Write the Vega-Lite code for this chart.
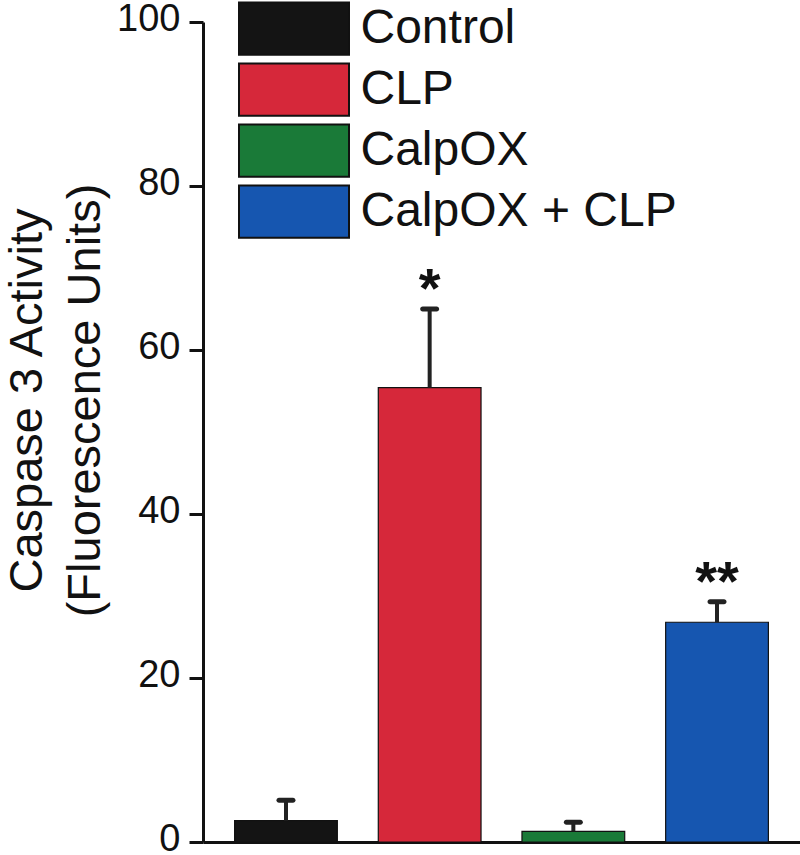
{
  "$schema": "https://vega.github.io/schema/vega-lite/v6.json",
  "width": 597,
  "height": 820,
  "autosize": "none",
  "padding": {"left": 203, "top": 22, "right": 0, "bottom": 13},
  "background": "white",
  "data": {
    "values": [
      {"group": "Control", "mean": 2.6, "upper": 5.1, "sig": ""},
      {"group": "CLP", "mean": 55.4, "upper": 65.0, "sig": "*"},
      {"group": "CalpOX", "mean": 1.3, "upper": 2.4, "sig": ""},
      {"group": "CalpOX + CLP", "mean": 26.8, "upper": 29.3, "sig": "**"}
    ]
  },
  "config": {
    "view": {"stroke": null},
    "font": "Liberation Sans"
  },
  "encoding": {
    "x": {
      "field": "group",
      "type": "nominal",
      "sort": ["Control", "CLP", "CalpOX", "CalpOX + CLP"],
      "scale": {"paddingInner": 0.285, "paddingOuter": 0.22},
      "axis": {
        "title": null,
        "labels": false,
        "ticks": false,
        "domainColor": "#111111",
        "domainWidth": 3
      }
    }
  },
  "layer": [
    {
      "mark": {"type": "bar", "stroke": "#111111", "strokeWidth": 1.2},
      "encoding": {
        "y": {
          "field": "mean",
          "type": "quantitative",
          "scale": {"domain": [0, 100], "nice": false},
          "axis": {
            "title": ["Caspase 3 Activity", "(Fluorescence Units)"],
            "titleFont": "Liberation Sans",
            "titleFontSize": 47,
            "titleFontWeight": "normal",
            "titleColor": "#111111",
            "titleLineHeight": 58,
            "titleAngle": -90,
            "titleBaseline": "top",
            "titleAlign": "center",
            "titleX": -199,
            "titleY": 378,
            "values": [0, 20, 40, 60, 80, 100],
            "grid": false,
            "domainColor": "#111111",
            "domainWidth": 3,
            "tickColor": "#111111",
            "tickWidth": 3,
            "tickSize": 14,
            "labelFont": "Liberation Sans",
            "labelFontSize": 38,
            "labelColor": "#111111",
            "labelPadding": 9,
            "labelOffset": -3,
            "labelFlush": false
          }
        },
        "color": {
          "field": "group",
          "type": "nominal",
          "sort": ["Control", "CLP", "CalpOX", "CalpOX + CLP"],
          "scale": {
            "domain": ["Control", "CLP", "CalpOX", "CalpOX + CLP"],
            "range": ["#141414", "#d6283a", "#1a7a38", "#1656b0"]
          },
          "legend": {
            "title": null,
            "orient": "none",
            "legendX": 62.5,
            "legendY": -22,
            "padding": 0,
            "symbolType": "M-2,-0.95H2V0.95H-2Z",
            "symbolSize": 3025,
            "symbolStrokeColor": "#111111",
            "symbolStrokeWidth": 2,
            "symbolOpacity": 1,
            "rowPadding": 0,
            "labelFont": "Liberation Sans",
            "labelFontSize": 48,
            "labelColor": "#111111",
            "labelOffset": 38,
            "labelLimit": 500
          }
        }
      }
    },
    {
      "mark": {"type": "rule", "strokeWidth": 4, "color": "#222222"},
      "encoding": {
        "y": {"field": "mean", "type": "quantitative"},
        "y2": {"field": "upper"}
      }
    },
    {
      "mark": {"type": "tick", "orient": "horizontal", "size": 19, "thickness": 5, "cornerRadius": 2.5, "color": "#222222", "opacity": 1},
      "encoding": {
        "y": {"field": "upper", "type": "quantitative"}
      }
    },
    {
      "mark": {"type": "text", "fontSize": 56, "fontWeight": "bold", "baseline": "alphabetic", "dy": -2, "color": "#111111", "font": "Liberation Sans"},
      "encoding": {
        "y": {"field": "upper", "type": "quantitative"},
        "text": {"field": "sig"}
      }
    }
  ]
}
